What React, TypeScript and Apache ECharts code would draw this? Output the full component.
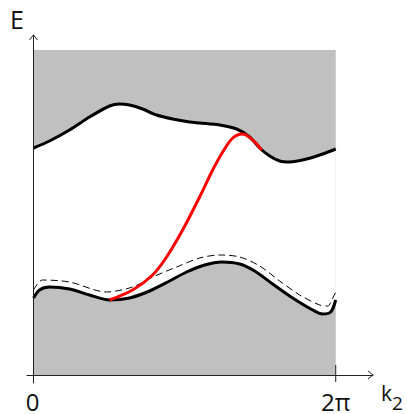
import React, { useEffect, useRef } from "react";
import * as echarts from "echarts";

const TWO_PI = 2 * Math.PI;
const X_MIN = -0.135;
const X_MAX = 7.058;
const Y_MIN = -0.08;
const Y_MAX = 3.4;
const GRAY_TOP = 3.25;
const X_TICKS = [0, TWO_PI];
const X_TICK_LABELS = ["0", "2π"];

// upper band lower edge
const K_TOP = [0, 0.333, 0.749, 1.165, 1.581, 1.789, 1.997, 2.268, 2.559, 2.892, 3.246, 3.454, 3.87, 4.223, 4.494, 4.702, 4.91, 5.118, 5.326, 5.68, 6.012, 6.283];
const E_TOP = [2.27, 2.34, 2.45, 2.58, 2.69, 2.71, 2.7, 2.66, 2.6, 2.56, 2.53, 2.52, 2.5, 2.46, 2.38, 2.27, 2.19, 2.14, 2.13, 2.16, 2.21, 2.26];

// lower band upper edge
const K_BOT = [0, 0.125, 0.333, 0.749, 1.165, 1.581, 1.997, 2.413, 2.829, 3.183, 3.558, 3.912, 4.286, 4.598, 4.972, 5.388, 5.804, 6.012, 6.179, 6.283];
const E_BOT = [0.77, 0.85, 0.88, 0.86, 0.8, 0.75, 0.77, 0.84, 0.94, 1.03, 1.1, 1.13, 1.11, 1.04, 0.91, 0.77, 0.65, 0.61, 0.63, 0.75];

// dashed curve
const K_DASH = [0, 0.187, 0.749, 1.519, 2.06, 2.476, 2.975, 3.454, 3.87, 4.286, 4.702, 5.118, 5.534, 5.95, 6.117, 6.221, 6.283];
const E_DASH = [0.85, 0.95, 0.93, 0.83, 0.88, 0.98, 1.08, 1.17, 1.2, 1.18, 1.09, 0.94, 0.8, 0.7, 0.69, 0.77, 0.83];

// red edge state
const K_RED = [1.581, 2.06, 2.476, 2.767, 3.1, 3.454, 3.725, 3.933, 4.141, 4.349, 4.557, 4.744];
const E_RED = [0.75, 0.85, 1.0, 1.18, 1.45, 1.78, 2.05, 2.23, 2.37, 2.41, 2.35, 2.25];

const pairs = (k: number[], e: number[]) => k.map((x, i) => [x, e[i]]);

const FONT = "Open Sans";
const AXIS_COLOR = "#222";
const TEXT_COLOR = "#111";
const GRAY = "#c0c0c0";

export default function App() {
  const ref = useRef<HTMLDivElement>(null);
  useEffect(() => {
    const chart = echarts.init(ref.current!, null, { renderer: "svg" });
    chart.setOption({
      animation: false,
      grid: { left: 27, right: 34, top: 35, bottom: 31, outerBoundsMode: "none", containLabel: false },
      xAxis: {
        type: "value",
        min: X_MIN,
        max: X_MAX,
        z: 10,
        splitLine: { show: false },
        axisLine: { onZero: true, lineStyle: { color: AXIS_COLOR, width: 1 } },
        axisTick: { show: false },
        axisLabel: { show: false },
      },
      yAxis: {
        type: "value",
        min: Y_MIN,
        max: Y_MAX,
        z: 10,
        splitLine: { show: false },
        axisLine: { onZero: true, lineStyle: { color: AXIS_COLOR, width: 1 } },
        axisTick: { show: false },
        axisLabel: { show: false },
      },
      series: [
        // gray upper region: full block, then white below the upper band edge
        {
          type: "line",
          data: [
            [0, GRAY_TOP],
            [TWO_PI, GRAY_TOP],
          ],
          symbol: "none",
          lineStyle: { width: 0, opacity: 0 },
          areaStyle: { color: GRAY, opacity: 1, origin: 0 },
          silent: true,
          z: 1,
        },
        {
          type: "line",
          data: pairs(K_TOP, E_TOP),
          smooth: 0.3,
          symbol: "none",
          lineStyle: { width: 0, opacity: 0 },
          areaStyle: { color: "#ffffff", opacity: 1, origin: 0 },
          silent: true,
          z: 1,
        },
        {
          type: "line",
          data: pairs(K_BOT, E_BOT),
          smooth: 0.3,
          symbol: "none",
          lineStyle: { width: 0, opacity: 0 },
          areaStyle: { color: GRAY, opacity: 1, origin: 0 },
          silent: true,
          z: 1,
        },
        {
          type: "line",
          data: pairs(K_DASH, E_DASH),
          smooth: 0.3,
          symbol: "none",
          lineStyle: { color: "#000", width: 1, type: [7, 4] },
          z: 3,
        },
        {
          type: "line",
          data: pairs(K_TOP, E_TOP),
          smooth: 0.3,
          symbol: "none",
          lineStyle: { color: "#000", width: 3 },
          z: 4,
        },
        {
          type: "line",
          data: pairs(K_BOT, E_BOT),
          smooth: 0.3,
          symbol: "none",
          lineStyle: { color: "#000", width: 3 },
          z: 4,
        },
        {
          type: "line",
          data: pairs(K_RED, E_RED),
          smooth: 0.3,
          symbol: "none",
          lineStyle: { color: "#ff0000", width: 3 },
          z: 5,
        },
        {
          type: "line",
          data: [
            [TWO_PI, -0.07],
            [TWO_PI, 0.1],
          ],
          symbol: "none",
          lineStyle: { color: AXIS_COLOR, width: 1 },
          silent: true,
          z: 11,
        },
      ],
    });

    const p = (k: number, e: number) => chart.convertToPixel({ gridIndex: 0 }, [k, e]) as number[];
    const yTip = p(0, Y_MAX);
    const xTip = p(X_MAX, 0);
    const tickLabels = X_TICKS.map((t, i) => {
      const pt = p(t, 0);
      return {
        type: "text",
        x: pt[0] - (i === 0 ? 1 : 0),
        y: pt[1] + 26.5,
        style: {
          text: X_TICK_LABELS[i],
          fontSize: 24,
          lineHeight: 20,
          fontFamily: FONT,
          fill: TEXT_COLOR,
          align: "center",
          verticalAlign: "middle",
        },
      };
    });
    chart.setOption({
      graphic: [
        {
          type: "polyline",
          shape: { points: [[yTip[0] - 4, yTip[1] + 5], [yTip[0], yTip[1]], [yTip[0] + 4, yTip[1] + 5]] },
          style: { stroke: AXIS_COLOR, lineWidth: 1, fill: null },
          z: 20,
        },
        {
          type: "polyline",
          shape: { points: [[xTip[0] - 5, xTip[1] - 4], [xTip[0], xTip[1]], [xTip[0] - 5, xTip[1] + 4]] },
          style: { stroke: AXIS_COLOR, lineWidth: 1, fill: null },
          z: 20,
        },
        ...tickLabels,
        {
          type: "text",
          x: 10,
          y: 18.5,
          style: { text: "E", fontSize: 25, fontFamily: FONT, fill: TEXT_COLOR, verticalAlign: "middle", align: "left" },
        },
        {
          type: "text",
          x: 381,
          y: 382,
          style: {
            text: "{k|k}{s|2}",
            verticalAlign: "top",
            align: "left",
            rich: {
              k: { fontSize: 21, lineHeight: 14, verticalAlign: "top", fontFamily: FONT, fill: TEXT_COLOR },
              s: { fontSize: 19, lineHeight: 14, padding: [11, 0, 0, 0], verticalAlign: "top", fontFamily: FONT, fill: TEXT_COLOR },
            },
          },
        },
      ],
    });
    return () => chart.dispose();
  }, []);
  return <div ref={ref} style={{ position: "absolute", left: 0, top: 0, width: 407, height: 414 }} />;
}
